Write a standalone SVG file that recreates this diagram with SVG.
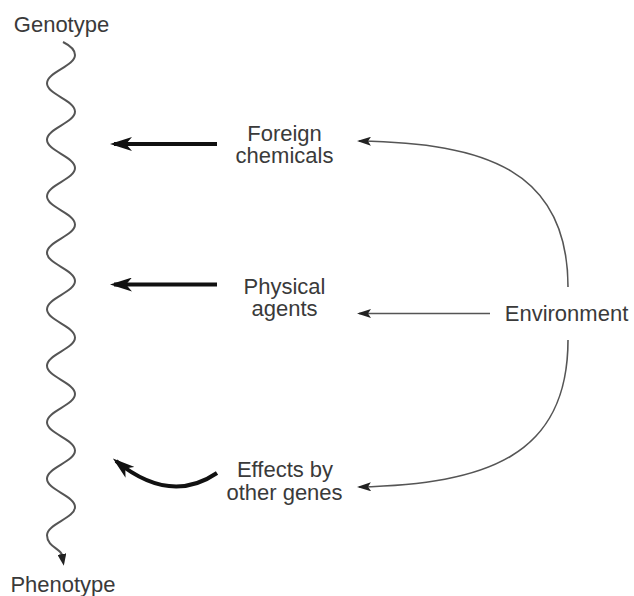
<svg xmlns="http://www.w3.org/2000/svg" width="634" height="596" viewBox="0 0 634 596">
  <style>
    .lbl { font-family: "Liberation Sans", Arial, sans-serif; font-size: 22px; fill: #3a3a3a; text-anchor: middle; }
    .thick { fill: none; stroke: #111; stroke-width: 4; }
    .thin { fill: none; stroke: #555; stroke-width: 1.6; }
    .wave { fill: none; stroke: #555; stroke-width: 2; }
  </style>
  <defs>
    <marker id="headThick" markerUnits="userSpaceOnUse" markerWidth="22" markerHeight="14" viewBox="0 0 22 14" refX="18" refY="7" orient="auto">
      <path d="M0,0 L22,7 L0,14 L6,7 Z" fill="#111"/>
    </marker>
    <marker id="headThin" markerUnits="userSpaceOnUse" markerWidth="14" markerHeight="9" viewBox="0 0 14 9" refX="12" refY="4.5" orient="auto">
      <path d="M0,0 L14,4.5 L0,9 L3,4.5 Z" fill="#222"/>
    </marker>
    <marker id="headWave" markerUnits="userSpaceOnUse" markerWidth="12" markerHeight="9" viewBox="0 0 12 9" refX="1" refY="4.5" orient="auto">
      <path d="M0,0 L12,4.5 L0,9 Z" fill="#222"/>
    </marker>
  </defs>

  <!-- genotype to phenotype wavy path -->
  <g id="wave">
    <path class="wave" marker-end="url(#headWave)" d="M 63 42 C 69 45, 75 49, 75 55
      C 75 66.3, 47 72, 47 83.25
      S 75 100.25, 75 111.5
      S 47 128.5, 47 139.75
      S 75 156.75, 75 168
      S 47 185, 47 196.25
      S 75 213.25, 75 224.5
      S 47 241.5, 47 252.75
      S 75 269.75, 75 281
      S 47 298, 47 309.25
      S 75 326.25, 75 337.5
      S 47 354.5, 47 365.75
      S 75 382.75, 75 394
      S 47 411, 47 422.25
      S 75 439.25, 75 450.5
      S 47 467.5, 47 478.75
      S 75 495.75, 75 507
      S 47 524, 47 535.25
      C 47 546.5, 61 549, 62 555"/>
  </g>

  <g id="genotype"><text class="lbl" x="61.5" y="32">Genotype</text></g>
  <g id="phenotype"><text class="lbl" x="63" y="592">Phenotype</text></g>

  <g id="foreign-chemicals">
    <text class="lbl" x="284.5" y="141">Foreign</text>
    <text class="lbl" x="284.5" y="163">chemicals</text>
  </g>
  <g id="physical-agents">
    <text class="lbl" x="284.5" y="294">Physical</text>
    <text class="lbl" x="284.5" y="316">agents</text>
  </g>
  <g id="other-genes">
    <text class="lbl" x="285" y="477">Effects by</text>
    <text class="lbl" x="284.5" y="500">other genes</text>
  </g>
  <g id="environment"><text class="lbl" x="566.5" y="321">Environment</text></g>

  <g id="connectors">
    <path class="thick" marker-end="url(#headThick)" d="M 217 144 L 114 144"/>
    <path class="thick" marker-end="url(#headThick)" d="M 217 284.5 L 114 284.5"/>
    <path class="thick" marker-end="url(#headThick)" d="M 217 473 Q 170 505 116 461"/>
    <path class="thin" marker-end="url(#headThin)" d="M 568 287 C 568 170, 485 143, 359 141"/>
    <path class="thin" marker-end="url(#headThin)" d="M 490 313.5 L 359 313.5"/>
    <path class="thin" marker-end="url(#headThin)" d="M 568 340 C 568 457, 485 484, 359 487"/>
  </g>
</svg>
